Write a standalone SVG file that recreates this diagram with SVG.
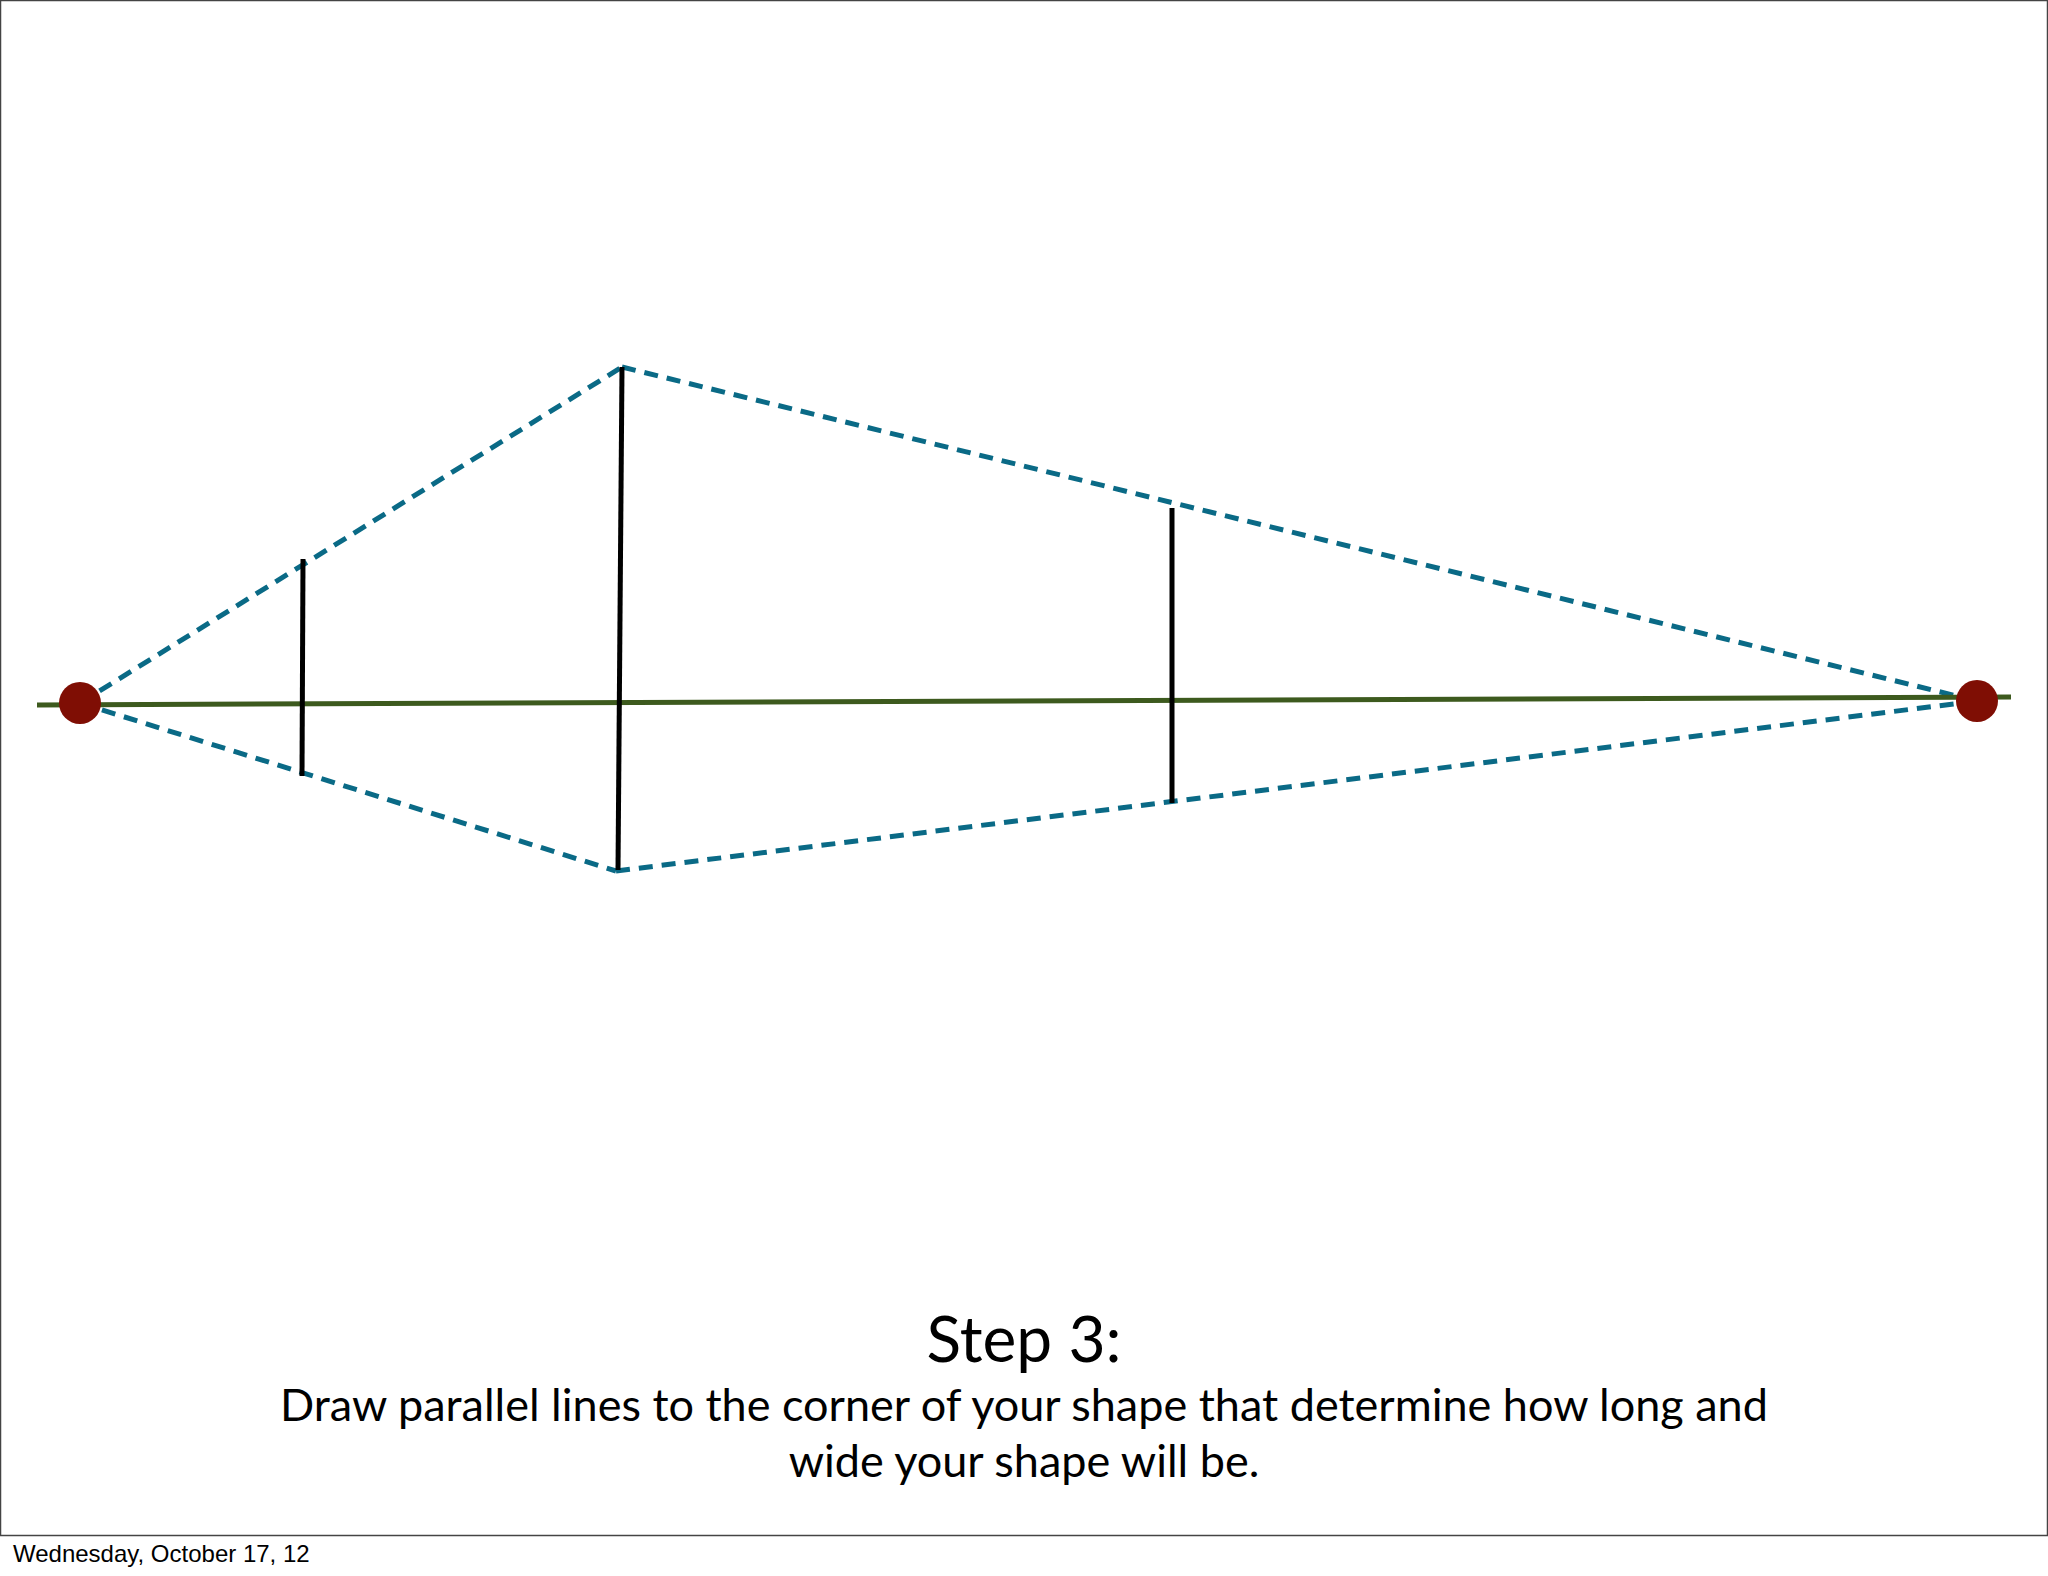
<svg xmlns="http://www.w3.org/2000/svg" width="2048" height="1576" viewBox="0 0 2048 1576">
<style>
.d{stroke:#0a6a86;stroke-width:5;stroke-dasharray:14 9;fill:none}
.v{stroke:#000;stroke-width:5}
.t{font-family:Lato,"Open Sans",sans-serif;fill:#000;text-anchor:middle}
</style>
<rect width="2048" height="1576" fill="#fff"/>
<rect x="0.5" y="0.5" width="2047" height="1535" fill="none" stroke="#444" stroke-width="1.5"/>
<g id="connectors">
<line class="d" x1="80" y1="703" x2="622" y2="367"/>
<line class="d" x1="622" y1="367" x2="1977" y2="701"/>
<line class="d" x1="80" y1="703" x2="616" y2="871"/>
<line class="d" x1="616" y1="871" x2="1977" y2="701"/>
<line x1="37" y1="705" x2="2011" y2="697" stroke="#3d5a1e" stroke-width="5"/>
<line class="v" x1="303" y1="559" x2="302" y2="776"/>
<line class="v" x1="622" y1="367" x2="618" y2="870"/>
<line class="v" x1="1172" y1="508" x2="1172" y2="803"/>
</g>
<g id="vp-left"><circle cx="80" cy="703" r="21" fill="#7f0e04"/></g>
<g id="vp-right"><circle cx="1977" cy="701" r="21" fill="#7f0e04"/></g>
<g id="caption">
<text class="t" x="1024" y="1362" font-size="64">Step 3:</text>
<text class="t" x="1024" y="1421" font-size="45">Draw parallel lines to the corner of your shape that determine how long and</text>
<text class="t" x="1024" y="1477" font-size="45">wide your shape will be.</text>
</g>
<text x="13" y="1562" font-family="Liberation Sans,sans-serif" font-size="24">Wednesday, October 17, 12</text>
</svg>
